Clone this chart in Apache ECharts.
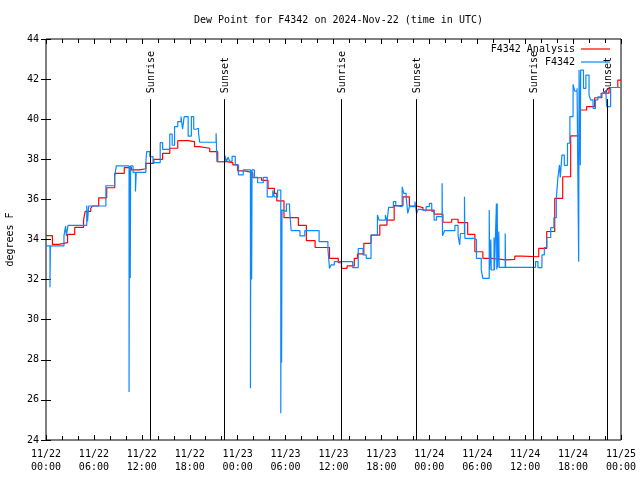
<!DOCTYPE html>
<html><head><meta charset="utf-8">
<script src="https://cdn.jsdelivr.net/npm/echarts@6/dist/echarts.min.js"></script>
<style>html,body{margin:0;padding:0;background:#fff}#c{width:640px;height:480px}</style>
</head><body><div id="c"></div><script>
const chartTitle = 'Dew Point for F4342 on 2024-Nov-22 (time in UTC)';
const yAxisName = 'degrees F';
const xTickDates = ['11/22','11/22','11/22','11/22','11/23','11/23','11/23','11/23','11/24','11/24','11/24','11/24','11/25'];
const xTickTimes = ['00:00','06:00','12:00','18:00','00:00','06:00','12:00','18:00','00:00','06:00','12:00','18:00','00:00'];
const seriesNames = ['F4342 Analysis', 'F4342'];
// hours since 2024-11-22 00:00 UTC
const sunHours = [13.06, 22.33, 36.98, 46.33, 61.02, 70.29];
const sunLabels = ['Sunrise','Sunset','Sunrise','Sunset','Sunrise','Sunset'];
// [hour, dew point F] – value held until next point
const analysisData = [
 [0,34.19],[0.8,33.76],[1.6,33.84],[2.7,34.26],[3.6,34.6],[4.7,34.97],[4.9,35.4],[5.6,35.55],[5.8,35.67],
 [6.6,36.08],[7.6,36.58],[8.6,37.3],[9.8,37.58],[10.7,37.47],[11.7,37.53],[12.5,37.8],[13.5,38.0],
 [14.6,38.3],[15.5,38.55],[16.5,38.93],[17.8,38.88],[18.6,38.63],[19.2,38.55],[20.5,38.38],[21.5,37.88],
 [22.6,37.83],[23.4,37.72],[24.0,37.42],[24.9,37.33],[25.9,37.08],[27.0,36.95],[27.8,36.55],[28.6,36.3],
 [28.9,35.93],[29.8,35.09],[31.6,34.7],[32.6,33.94],[33.7,33.6],[35.5,33.06],[36.6,32.84],[37.0,32.56],
 [37.7,32.68],[38.6,33.06],[39.0,33.28],[39.8,33.81],[40.7,34.22],[41.8,34.72],[42.7,34.97],[43.6,35.69],
 [44.7,36.13],[45.5,35.67],[46.4,35.59],[47.2,35.47],[48.6,35.27],[49.7,34.86],[50.8,35.01],[51.6,34.84],
 [52.8,34.26],[53.7,33.39],[54.7,33.06],[55.8,32.98],[57.6,33.01],[58.7,33.17],[59.6,33.14],[61.7,33.56],
 [62.7,34.4],[63.7,36.05],[64.7,37.13],[65.7,39.17],[66.8,40.46],[67.7,40.63],[68.7,41.07],[69.6,41.3],
 [70.5,41.58],[71.6,41.95],[72,41.95]
];
const obsData = [
 [0,33.68],[0.5,31.62],[0.55,33.68],[2.25,34.18],[2.45,34.67],[2.55,34.18],[2.75,34.7],[5.1,35.69],[5.2,34.9],
 [5.35,35.67],[7.5,36.68],[8.6,37.13],[8.8,37.67],[10.4,26.4],[10.45,37.67],[10.55,32.08],[10.6,37.67],
 [10.9,37.35],[11.2,36.39],[11.3,37.35],[12.5,37.83],[12.6,38.38],[13.0,38.13],[13.4,37.83],[14.3,38.83],
 [14.6,38.5],[15.5,39.26],[15.8,38.7],[16.1,39.63],[16.5,39.88],[16.9,40.13],[17.1,39.5],[17.3,40.13],
 [17.8,39.16],[18.2,40.13],[18.5,39.5],[18.8,39.55],[19.1,39.3],[19.25,38.85],[21.3,39.3],[21.4,37.88],
 [22.4,38.2],[22.6,37.9],[22.8,38.1],[23.0,37.9],[23.3,38.15],[23.7,37.72],[24.1,37.22],[24.7,37.47],
 [25.6,26.58],[25.65,37.47],[25.75,32.0],[25.8,37.47],[26.1,37.1],[26.5,36.83],[27.2,37.1],[27.7,36.13],
 [28.4,36.45],[28.6,36.13],[29.0,36.47],[29.4,25.33],[29.45,35.5],[29.5,27.86],[29.55,35.47],[29.7,35.4],
 [30.1,35.77],[30.5,35.47],[30.7,34.44],[31.8,34.18],[32.4,34.44],[34.2,33.89],[35.3,33.53],[35.5,32.56],
 [35.7,32.73],[36.1,32.9],[38.4,32.6],[39.1,33.55],[39.7,33.23],[40.1,33.06],[40.7,34.22],[41.5,35.22],
 [41.7,34.97],[42.5,35.22],[42.7,34.89],[42.9,35.6],[43.5,35.89],[43.8,35.68],[44.1,35.64],[44.6,36.63],
 [44.8,36.3],[45.1,36.13],[45.3,35.3],[45.5,35.64],[46.2,35.89],[46.4,35.3],[46.6,35.5],[47.0,35.42],
 [47.6,35.64],[48.0,35.8],[48.3,35.4],[48.6,34.97],[48.9,35.14],[49.6,36.8],[49.65,34.18],[49.9,34.44],
 [51.2,34.7],[51.6,34.2],[51.8,33.73],[51.9,34.3],[52.4,36.13],[52.45,34.06],[53.5,34.0],[53.9,33.06],
 [54.5,32.48],[54.7,32.06],[55.5,35.47],[55.55,32.48],[55.7,34.0],[55.75,32.48],[56.1,34.1],[56.15,32.48],
 [56.4,35.8],[56.45,32.5],[56.5,35.8],[56.55,32.61],[56.7,34.4],[56.75,32.61],[57.5,34.3],[57.55,32.61],
 [61.3,32.9],[61.6,32.6],[62.1,33.23],[62.4,33.6],[62.7,34.1],[63.2,34.59],[63.6,35.09],[63.9,36.05],
 [64.1,37.08],[64.3,37.72],[64.4,37.1],[64.6,38.21],[64.9,37.7],[65.3,38.8],[65.6,40.13],[66.0,41.74],
 [66.2,41.4],[66.5,41.54],[66.7,32.89],[66.75,42.45],[66.9,37.7],[66.95,42.45],[67.3,41.54],[67.6,42.2],
 [68.0,41.2],[68.2,40.96],[68.5,40.54],[68.8,40.96],[69.1,41.12],[69.5,41.29],[70.1,41.46],[70.2,40.63],
 [70.7,41.58],[72,41.58]
];
const sunLineTop = 41.0;
const colors = ['#ff0000', '#0a88ff'];
const FONT = 'DejaVu Sans Mono';

const chart = echarts.init(document.getElementById('c'), null, {renderer: 'canvas'});
const tickCommon = {inside: true, length: 5, lineStyle: {color: '#000', width: 1}};
const minorCommon = {show: true, splitNumber: 3, length: 4, lineStyle: {color: '#000', width: 1}};
const xBase = {type: 'value', min: 0, max: 72, interval: 6, splitLine: {show: false},
  axisLine: {show: false}, axisTick: tickCommon, minorTick: minorCommon, minorSplitLine: {show: false}};
const yBase = {type: 'value', min: 24, max: 44, interval: 2, splitLine: {show: false},
  axisLine: {show: false}, axisTick: tickCommon};

const option = {
  animation: false,
  backgroundColor: '#fff',
  title: {text: chartTitle, left: 189, top: 10,
    textStyle: {fontFamily: FONT, fontSize: 10, fontWeight: 'normal', color: '#000'}},
  grid: {left: 46, right: 19, top: 39, bottom: 40, show: true, borderColor: '#000', borderWidth: 1,
    containLabel: false, outerBoundsMode: 'none'},
  xAxis: [
    Object.assign({}, xBase, {position: 'bottom',
      axisLabel: {margin: 8, fontFamily: FONT, fontSize: 10, color: '#000', lineHeight: 13,
        formatter: v => { const i = Math.round(v / 6); return xTickDates[i] + '\n' + xTickTimes[i]; }}}),
    Object.assign({}, xBase, {position: 'top', axisLabel: {show: false}})
  ],
  yAxis: [
    Object.assign({}, yBase, {position: 'left', name: yAxisName, nameLocation: 'middle', nameGap: 31,
      nameRotate: 90, nameTextStyle: {fontFamily: FONT, fontSize: 10, color: '#000'},
      axisLabel: {margin: 7, fontFamily: FONT, fontSize: 10, color: '#000'}}),
    Object.assign({}, yBase, {position: 'right', axisLabel: {show: false}})
  ],
  series: [
    {name: seriesNames[0], type: 'line', step: 'end', data: analysisData, showSymbol: false, symbol: 'none',
      lineStyle: {color: colors[0], width: 1.2}, itemStyle: {color: colors[0]},
      markLine: {silent: true, symbol: 'none', label: {show: false}, animation: false,
        lineStyle: {color: '#000', width: 1, type: 'solid'},
        data: sunHours.map(h => [{coord: [h, 24]}, {coord: [h, sunLineTop]}])}},
    {name: seriesNames[1], type: 'line', step: 'end', data: obsData, showSymbol: false, symbol: 'none',
      lineStyle: {color: colors[1], width: 1.2}, itemStyle: {color: colors[1]}}
  ]
};
chart.setOption(option);

const graphics = [];
sunHours.forEach((h, i) => {
  const p = chart.convertToPixel({gridIndex: 0}, [h, sunLineTop]);
  graphics.push({type: 'text', x: p[0] + 1, y: p[1] - 6, rotation: Math.PI / 2,
    style: {text: sunLabels[i], fontFamily: FONT, fontSize: 10, fill: '#000',
      textAlign: 'left', textVerticalAlign: 'middle'}});
});
// key
const keyRows = [49, 62];
seriesNames.forEach((n, i) => {
  graphics.push({type: 'text', x: 575, y: keyRows[i], style: {text: n, fontFamily: FONT, fontSize: 10,
    fill: '#000', textAlign: 'right', textVerticalAlign: 'middle'}});
  graphics.push({type: 'line', shape: {x1: 581, y1: keyRows[i], x2: 610, y2: keyRows[i]},
    style: {stroke: colors[i], lineWidth: 1.2}});
});
chart.setOption({graphic: graphics});
</script></body></html>
